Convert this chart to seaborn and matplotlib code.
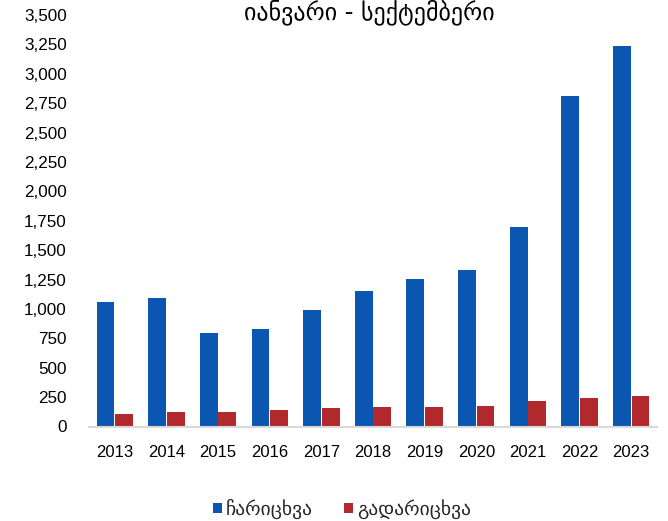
import matplotlib
matplotlib.use("Agg")
import matplotlib.pyplot as plt
import seaborn as sns
import pandas as pd
from matplotlib.patches import Patch

years = ["2013", "2014", "2015", "2016", "2017", "2018", "2019", "2020", "2021", "2022", "2023"]
incoming = [1059, 1090, 798, 829, 993, 1155, 1252, 1331, 1699, 2814, 3239]
outgoing = [104, 123, 121, 138, 155, 163, 163, 172, 219, 245, 262]
series_names = ["ჩარიცხვა", "გადარიცხვა"]
title_text = "იანვარი - სექტემბერი"
yticks = [0, 250, 500, 750, 1000, 1250, 1500, 1750, 2000, 2250, 2500, 2750, 3000, 3250, 3500]

df = pd.DataFrame({
    "year": years * 2,
    "value": incoming + outgoing,
    "series": [series_names[0]] * len(years) + [series_names[1]] * len(years),
})

sns.set_theme(style="white")
plt.rcParams["font.family"] = ["Liberation Sans", "DejaVu Sans"]

colors = ["#0A56B0", "#B1282D"]

fig = plt.figure(figsize=(6.68, 5.21), dpi=100)
ax = fig.add_axes([89 / 668, (521 - 426.5) / 521, (657 - 89) / 668, 411.5 / 521])

sns.barplot(data=df, x="year", y="value", hue="series", palette=colors,
            width=0.72, gap=0.04, ax=ax, legend=False, saturation=1,
            linewidth=0)

ax.set_ylim(0, 3500)
ax.set_xlim(-0.5, len(years) - 0.5)
ax.set_yticks(yticks)
ax.set_yticklabels([f"{v:,}" for v in yticks])
ax.set_xlabel("")
ax.set_ylabel("")
ax.tick_params(axis="y", length=0, pad=16, labelsize=12.3, labelcolor="#000000")
ax.tick_params(axis="x", length=0, pad=13, labelsize=12, labelcolor="#000000")
for s in ["left", "right", "top"]:
    ax.spines[s].set_visible(False)
ax.spines["bottom"].set_color("#D9D9D9")
ax.spines["bottom"].set_linewidth(1.5)
ax.grid(False)

fig.text(369 / 668, 1 - 12 / 521, title_text, ha="center", va="center",
         fontsize=17.3, family=["DejaVu Sans"], color="#000000")

handles = [Patch(facecolor=c, edgecolor="none") for c in colors]
fig.legend(handles, series_names, loc="center", bbox_to_anchor=(342 / 668, 1 - 509 / 521),
           ncol=2, frameon=False, handlelength=0.45, handleheight=0.45,
           handletextpad=0.2, columnspacing=1.6, borderpad=0.2,
           prop={"family": ["DejaVu Sans"], "size": 14})

fig.savefig("out.png", dpi=100)
